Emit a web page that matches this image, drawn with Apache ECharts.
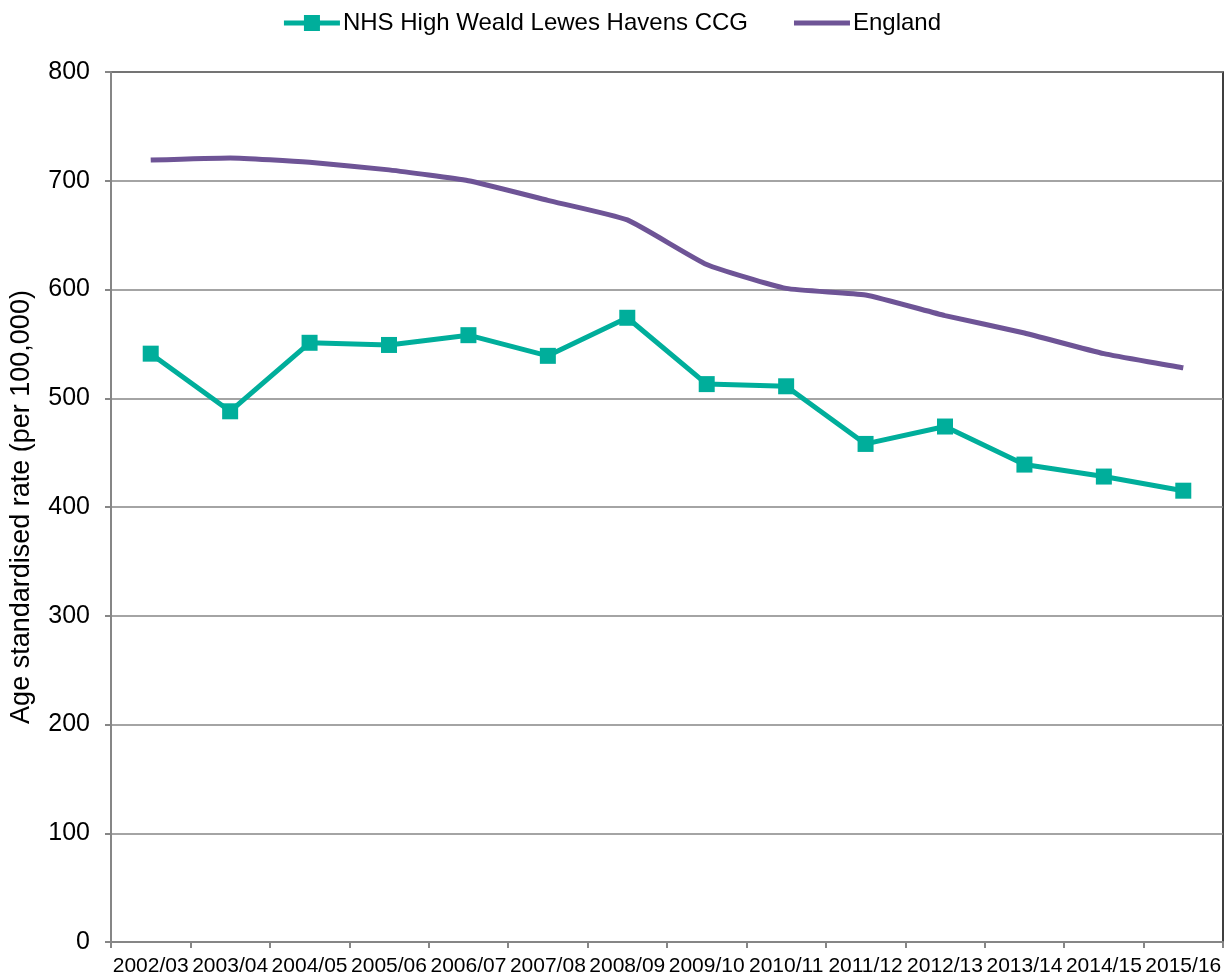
<!DOCTYPE html>
<html>
<head>
<meta charset="utf-8">
<script src="https://cdn.jsdelivr.net/npm/echarts@6/dist/echarts.min.js"></script>
<style>
  html, body { margin: 0; padding: 0; background: #fff; }
  #chart { width: 1225px; height: 978px; }
</style>
</head>
<body>
<div id="chart"></div>
<script>
// Financial years shown along the x axis
const years = ['2002/03','2003/04','2004/05','2005/06','2006/07','2007/08','2008/09',
               '2009/10','2010/11','2011/12','2012/13','2013/14','2014/15','2015/16'];

// Age standardised rate per 100,000
const ccgName = 'NHS High Weald Lewes Havens CCG';
const ccgRates = [541, 488, 551, 549, 558, 539, 574, 513, 511, 458, 474, 439, 428, 415];

const englandName = 'England';
const englandRates = [719, 721, 717, 710, 700, 682, 664, 623, 601, 595, 576, 560, 541, 528];

const yAxisTitle = 'Age standardised rate (per 100,000)';

const teal = '#00AE9B';
const purple = '#6E5496';
const font = '"Liberation Sans", Arial, sans-serif';

const chart = echarts.init(document.getElementById('chart'));
chart.setOption({
  animation: false,
  textStyle: { fontFamily: font },
  legend: {
    top: 6,
    left: 'center',
    itemGap: 46,
    itemWidth: 56,
    itemHeight: 16,
    textStyle: { fontSize: 24, color: '#000', fontFamily: font, padding: [0, 0, 0, -2] },
    data: [
      { name: ccgName, icon: 'path://M0,5.5H20V0H36V5.5H56V10.5H36V16H20V10.5H0Z' },
      { name: englandName, icon: 'path://M0,5.5H56V10.5H0Z' }
    ]
  },
  grid: {
    left: 110, right: 2, top: 72, bottom: 36,
    show: true, borderColor: '#000', borderWidth: 1.5
  },
  xAxis: {
    type: 'category',
    data: years,
    boundaryGap: true,
    axisLine: { lineStyle: { color: '#868686', width: 2 } },
    axisTick: { show: true, length: 6, lineStyle: { color: '#868686', width: 2 } },
    axisLabel: { color: '#000', fontSize: 21, margin: 14, interval: 0, fontFamily: font }
  },
  yAxis: {
    type: 'value',
    min: 0, max: 800, interval: 100,
    name: yAxisTitle,
    nameLocation: 'middle',
    nameGap: 76,
    nameTextStyle: { fontSize: 27, color: '#000', fontFamily: font },
    axisLine: { show: true, lineStyle: { color: '#868686', width: 2 } },
    axisTick: { show: true, length: 6, lineStyle: { color: '#868686', width: 2 } },
    axisLabel: { color: '#000', fontSize: 25, margin: 21, fontFamily: font },
    splitLine: { lineStyle: { color: '#868686', width: 1.5 } }
  },
  series: [
    {
      name: ccgName,
      type: 'line',
      data: ccgRates,
      symbol: 'rect',
      symbolSize: 16,
      lineStyle: { color: teal, width: 5 },
      itemStyle: { color: teal },
      z: 3
    },
    {
      name: englandName,
      type: 'line',
      data: englandRates,
      symbol: 'none',
      smooth: 0.15,
      lineStyle: { color: purple, width: 5 },
      itemStyle: { color: purple },
      z: 2
    }
  ]
});
</script>
</body>
</html>
